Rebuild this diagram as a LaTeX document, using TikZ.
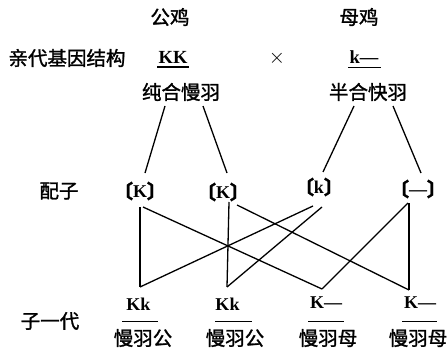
\documentclass[tikz,border=0pt]{standalone}
\usepackage{fontspec}
\usetikzlibrary{calc}
\newfontfamily\cjk[FakeBold=1.4]{Noto Sans CJK SC}
\newfontfamily\lat{Liberation Serif}
\newcommand{\gam}[1]{{\cjk\kern-0.4em\raisebox{-0.05em}{\fontsize{19}{20}\selectfont 〔}}#1{\cjk\raisebox{-0.05em}{\fontsize{19}{20}\selectfont 〕}\kern-0.4em}}
\begin{document}
\begin{tikzpicture}[x=1pt,y=-1pt,
  cn/.style={font=\cjk\fontsize{19.5}{22}\selectfont, inner sep=0pt},
  gene/.style={font=\lat\bfseries\fontsize{18.5}{20}\selectfont, inner sep=0pt},
  gam/.style={font=\lat\bfseries\fontsize{18}{20}\selectfont, inner sep=0pt},
  kid/.style={font=\lat\bfseries\fontsize{18}{20}\selectfont, inner sep=0pt},
  ln/.style={line width=1.3pt},
  ul/.style={line width=1.6pt}]
\path[use as bounding box] (0,0) rectangle (447,361);
% header
\node[cn] (cock) at (170,17) {公鸡};
\node[cn] (hen) at (359,17) {母鸡};
\node[cn] (plab) at (67,58) {亲代基因结构};
\node[gene] (KK) at (173,57) {KK};
\node[inner sep=0pt, font=\fontsize{21}{22}\selectfont] (x) at (277,58) {$\times$};
\node[gene] (kd) at (364,57) {k—};
\draw[ul] ($(KK.south west)+(-1,3.5)$) -- ($(KK.south east)+(1,3.5)$);
\draw[ul] ($(kd.south west)+(-1,4)$) -- ($(kd.south east)+(2,4)$);
\node[cn] (pc) at (181,92) {纯合慢羽};
\node[cn] (ph) at (368,92) {半合快羽};
% gametes
\node[cn] (glab) at (59,191) {配子};
\node[gam] (g1) at (140,191) {\gam{K}};
\node[gam] (g2) at (223,192) {\gam{K}};
\node[gam] (g3) at (319,187) {\gam{k}};
\node[gam] (g4) at (418,189) {\gam{—}};
% offspring
\node[cn] (olab) at (50,321) {子一代};
\node[kid] (o1) at (138.5,304) {Kk};
\node[kid] (o2) at (227.5,304) {Kk};
\node[kid] (o3) at (326,303) {K—};
\node[kid] (o4) at (420,303) {K—};
\foreach \n/\a/\b in {o1/122/158, o2/215/252, o3/308/344, o4/402/437}
  \draw[line width=1.2pt] (\a,321.5) -- (\b,321.5);
\node[cn] (p1) at (143,338) {慢羽公};
\node[cn] (p2) at (235,338) {慢羽公};
\node[cn] (p3) at (328,338) {慢羽母};
\node[cn] (p4) at (418,338) {慢羽母};
% connector end points
\coordinate (pcL) at (165,106);
\coordinate (pcR) at (203,106);
\coordinate (phL) at (354,106);
\coordinate (phR) at (393,106);
\coordinate (g1t) at (145,173);
\coordinate (g2t) at (227,173);
\coordinate (g3t) at (323,172);
\coordinate (g4t) at (421,173);
\coordinate (g1v) at (140,207);
\coordinate (g1d) at (143,207);
\coordinate (g2v) at (229,202);
\coordinate (g2d) at (237,205);
\coordinate (g3a) at (313,206);
\coordinate (g3b) at (322,207);
\coordinate (g4d) at (408,203);
\coordinate (g4v) at (409,203);
\coordinate (o1t) at (140,287);
\coordinate (o2t) at (227,287);
\coordinate (o3t) at (322,289);
\coordinate (o4t) at (409,290);
% parent -> gamete
\draw[ln] (pcL) -- (g1t);
\draw[ln] (pcR) -- (g2t);
\draw[ln] (phL) -- (g3t);
\draw[ln] (phR) -- (g4t);
% gamete -> offspring
\draw[ln] (g1v) -- (o1t);
\draw[ln] (g1d) -- (o3t);
\draw[ln] (g2v) -- (o2t);
\draw[ln] (g2d) -- (o4t);
\draw[ln] (g3a) -- (o1t);
\draw[ln] (g3b) -- (o2t);
\draw[ln] (g4d) -- (o3t);
\draw[ln] (g4v) -- (o4t);
\end{tikzpicture}
\end{document}
